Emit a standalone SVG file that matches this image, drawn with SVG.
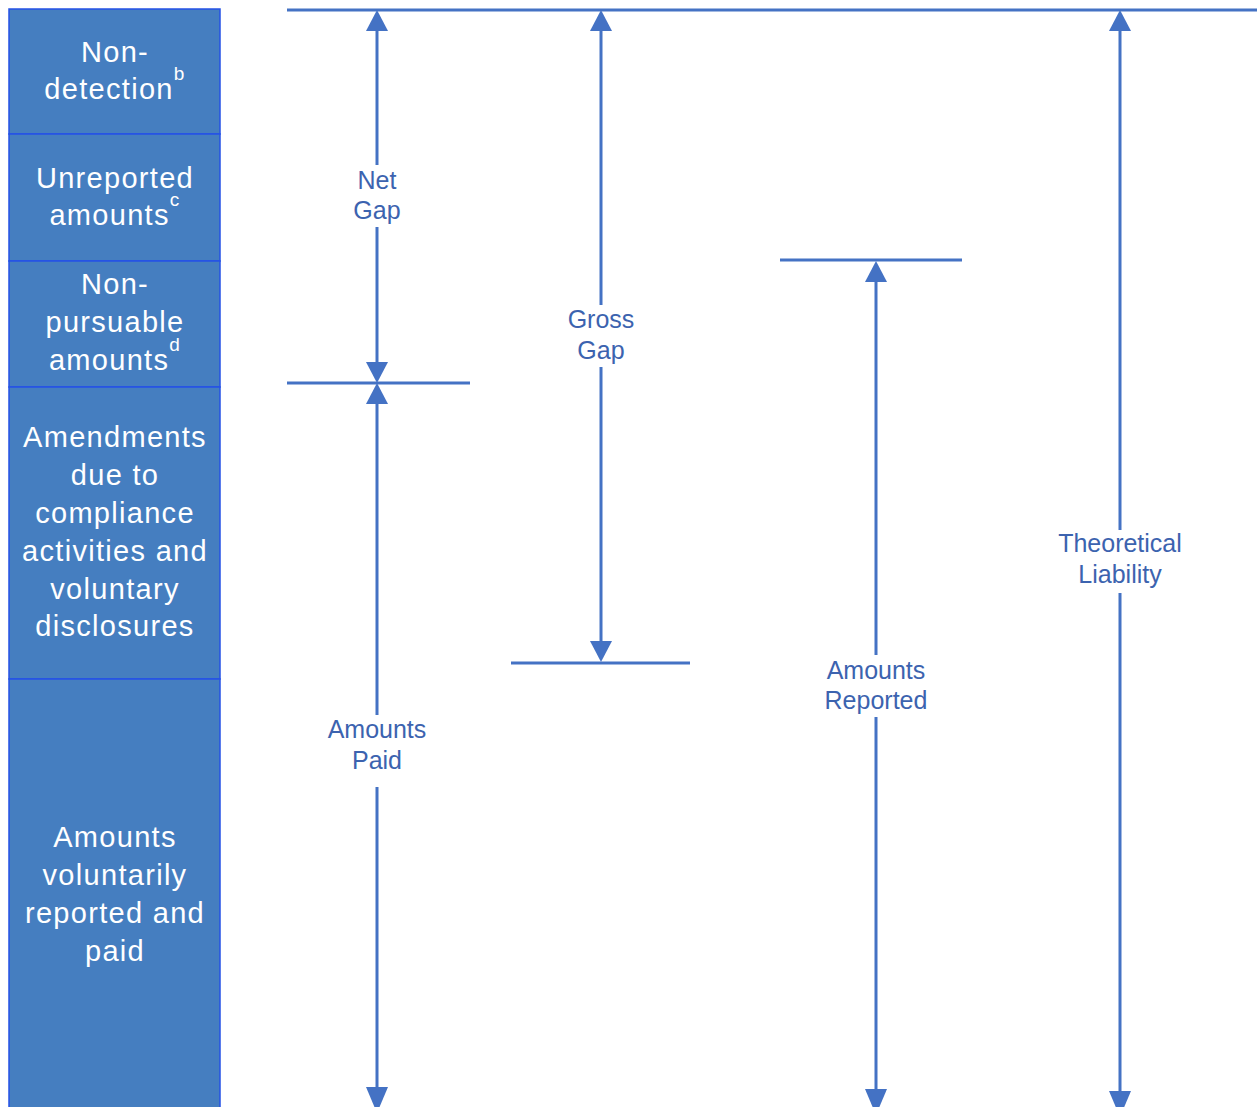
<svg xmlns="http://www.w3.org/2000/svg" width="1257" height="1107" viewBox="0 0 1257 1107">
<style>
.box{fill:#457EC0;stroke:#2452E6;stroke-width:1.5}
.bt{font-family:"Liberation Sans",Arial,sans-serif;font-size:29px;fill:#ffffff;text-anchor:middle;letter-spacing:1.3px}
.sup{font-size:19px}
.ln{stroke:#4472C4;stroke-width:3;fill:none}
.lb{font-family:"Liberation Sans",Arial,sans-serif;font-size:25px;fill:#3C63AF;text-anchor:middle}
.ah{fill:#4472C4}
</style>
<rect width="1257" height="1107" fill="#ffffff"/>
<g id="nondetection"><rect class="box" x="9" y="9" width="211" height="125"/><text class="bt" x="115" y="62">Non-</text><text class="bt" x="115" y="99">detection<tspan class="sup" dy="-19">b</tspan></text></g>
<g id="unreported"><rect class="box" x="9" y="134" width="211" height="127"/><text class="bt" x="115" y="188">Unreported</text><text class="bt" x="115" y="225">amounts<tspan class="sup" dy="-19">c</tspan></text></g>
<g id="nonpursuable"><rect class="box" x="9" y="261" width="211" height="126"/><text class="bt" x="115" y="294">Non-</text><text class="bt" x="115" y="332">pursuable</text><text class="bt" x="115" y="370">amounts<tspan class="sup" dy="-19">d</tspan></text></g>
<g id="amendments"><rect class="box" x="9" y="387" width="211" height="292"/><text class="bt" x="115" y="447">Amendments</text><text class="bt" x="115" y="485">due to</text><text class="bt" x="115" y="523">compliance</text><text class="bt" x="115" y="561">activities and</text><text class="bt" x="115" y="599">voluntary</text><text class="bt" x="115" y="636">disclosures</text></g>
<g id="voluntary"><rect class="box" x="9" y="679" width="211" height="430"/><text class="bt" x="115" y="847">Amounts</text><text class="bt" x="115" y="885">voluntarily</text><text class="bt" x="115" y="923">reported and</text><text class="bt" x="115" y="961">paid</text></g>
<g id="connectors">
<line class="ln" x1="287" y1="10" x2="1257" y2="10"/>
<line class="ln" x1="287" y1="383" x2="470" y2="383"/>
<line class="ln" x1="511" y1="663" x2="690" y2="663"/>
<line class="ln" x1="780" y1="260" x2="962" y2="260"/>
<line class="ln" x1="377" y1="28" x2="377" y2="165"/><line class="ln" x1="377" y1="227" x2="377" y2="365"/>
<polygon class="ah" points="377,10 366,31 388,31"/><polygon class="ah" points="377,383 366,362 388,362"/>
<line class="ln" x1="377" y1="400" x2="377" y2="715"/><line class="ln" x1="377" y1="787" x2="377" y2="1090"/>
<polygon class="ah" points="377,383 366,404 388,404"/><polygon class="ah" points="377,1113 366,1087 388,1087"/>
<line class="ln" x1="601" y1="28" x2="601" y2="305"/><line class="ln" x1="601" y1="367" x2="601" y2="645"/>
<polygon class="ah" points="601,10 590,31 612,31"/><polygon class="ah" points="601,662 590,641 612,641"/>
<line class="ln" x1="876" y1="278" x2="876" y2="655"/><line class="ln" x1="876" y1="717" x2="876" y2="1092"/>
<polygon class="ah" points="876,261 865,282 887,282"/><polygon class="ah" points="876,1115 865,1089 887,1089"/>
<line class="ln" x1="1120" y1="28" x2="1120" y2="530"/><line class="ln" x1="1120" y1="593" x2="1120" y2="1094"/>
<polygon class="ah" points="1120,10 1109,31 1131,31"/><polygon class="ah" points="1120,1117 1109,1091 1131,1091"/>
</g>
<g id="labels">
<text class="lb" x="377" y="189">Net</text><text class="lb" x="377" y="219">Gap</text>
<text class="lb" x="601" y="328">Gross</text><text class="lb" x="601" y="359">Gap</text>
<text class="lb" x="377" y="738">Amounts</text><text class="lb" x="377" y="769">Paid</text>
<text class="lb" x="876" y="679">Amounts</text><text class="lb" x="876" y="709">Reported</text>
<text class="lb" x="1120" y="552">Theoretical</text><text class="lb" x="1120" y="583">Liability</text>
</g>
</svg>
